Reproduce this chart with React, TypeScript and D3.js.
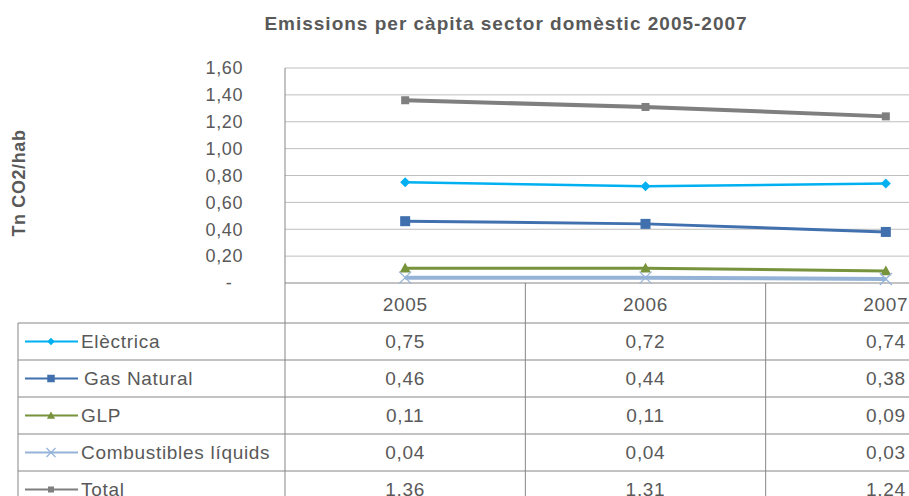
import React from "react";
import * as d3 from "d3";

const years = ["2005", "2006", "2007"];
const seriesNames = ["Elèctrica", "Gas Natural", "GLP", "Combustibles líquids", "Total"];
const electrica = [0.75, 0.72, 0.74];
const gasNatural = [0.46, 0.44, 0.38];
const glp = [0.11, 0.11, 0.09];
const combustibles = [0.04, 0.04, 0.03];
const total = [1.36, 1.31, 1.24];
const yTicks = [0, 0.2, 0.4, 0.6, 0.8, 1.0, 1.2, 1.4, 1.6];

const W = 909, H = 496;
const plotLeft = 285, plotRight = 1006, plotTop = 68, plotBottom = 283;
const tableLeft = 18, headerBottom = 323, rowH = 37;
const FONT = "'Liberation Sans', Arial, sans-serif";

const styles = [
  { color: "#00B0F0", width: 2.5, marker: "diamond" },
  { color: "#4170AE", width: 3, marker: "square" },
  { color: "#77933C", width: 3, marker: "triangle" },
  { color: "#95B3D7", width: 4, marker: "x" },
  { color: "#7F7F7F", width: 4, marker: "square2" },
];

function Marker({ type, x, y, color, small }: { type: string; x: number; y: number; color: string; small?: boolean }) {
  const k = small ? 0.75 : 1;
  if (type === "diamond") {
    const s = 5 * k;
    return <path d={`M${x},${y - s}L${x + s},${y}L${x},${y + s}L${x - s},${y}Z`} fill={color} />;
  }
  if (type === "square") {
    const s = 5 * k;
    return <rect x={x - s} y={y - s} width={2 * s} height={2 * s} fill={color} />;
  }
  if (type === "square2") {
    const s = 4 * k;
    return <rect x={x - s} y={y - s} width={2 * s} height={2 * s} fill={color} />;
  }
  if (type === "triangle") {
    const s = 5.5 * k;
    return <path d={`M${x},${y - s}L${x + s},${y + s * 0.8}L${x - s},${y + s * 0.8}Z`} fill={color} />;
  }
  const s = 6 * k;
  return (
    <g stroke={color} strokeWidth={1.3}>
      <line x1={x - s} y1={y - s} x2={x + s} y2={y + s} />
      <line x1={x - s} y1={y + s} x2={x + s} y2={y - s} />
    </g>
  );
}

export default function App() {
  const data = [electrica, gasNatural, glp, combustibles, total];
  const x = d3.scaleBand<string>().domain(years).range([plotLeft, plotRight]).padding(0);
  const cx = (yr: string) => (x(yr) as number) + x.bandwidth() / 2;
  const y = d3.scaleLinear().domain([0, 1.6]).range([plotBottom, plotTop]);
  const fmt = (v: number) => (v === 0 ? "-" : d3.format(".2f")(v).replace(".", ","));
  const line = d3
    .line<number>()
    .x((_, i) => cx(years[i]))
    .y((d) => y(d));
  const gridC = "#BFBFBF";
  const axisC = "#868686";
  const textC = "#595959";
  const rowsTop = (i: number) => headerBottom + i * rowH;
  const cellFont = 19;
  const cellSpacing = 0.7;

  return (
    <svg width={W} height={H} style={{ position: "absolute", left: 0, top: 0, background: "#fff" }} fontFamily={FONT}>
      <rect width={W} height={H} fill="#fff" />
      <text x={506} y={30} textAnchor="middle" fontSize={19} fontWeight="bold" fill={textC} letterSpacing={1}>
        Emissions per càpita sector domèstic 2005-2007
      </text>
      <text transform={`translate(25,183) rotate(-90)`} textAnchor="middle" fontSize={18} fontWeight="bold" fill={textC} letterSpacing={0.6}>
        Tn CO2/hab
      </text>
      {yTicks.map((t) => (
        <g key={t}>
          {t > 0 && <line x1={plotLeft} x2={plotRight} y1={y(t)} y2={y(t)} stroke={gridC} strokeWidth={1} />}
          <text
            x={t === 0 ? 229 : 243}
            y={y(t)}
            dy="0.35em"
            textAnchor={t === 0 ? "middle" : "end"}
            fontSize={18}
            fill={textC}
            letterSpacing={0.6}
          >
            {fmt(t)}
          </text>
        </g>
      ))}
      {/* plot border lines */}
      <line x1={plotLeft} x2={plotLeft} y1={plotTop} y2={H} stroke={axisC} />
      <line x1={plotLeft} x2={plotRight} y1={plotBottom} y2={plotBottom} stroke={axisC} />
      {/* table lines */}
      {years.slice(1).map((yr) => (
        <line key={yr} x1={x(yr) as number} x2={x(yr) as number} y1={plotBottom} y2={H} stroke={axisC} />
      ))}
      <line x1={tableLeft} x2={tableLeft} y1={headerBottom} y2={H} stroke={axisC} />
      {seriesNames.map((_, i) => (
        <line key={i} x1={tableLeft} x2={plotRight} y1={rowsTop(i)} y2={rowsTop(i)} stroke={axisC} />
      ))}
      {/* header years */}
      {years.map((yr) => (
        <text key={yr} x={cx(yr)} y={(plotBottom + headerBottom) / 2 + 1} dy="0.35em" textAnchor="middle" fontSize={cellFont} fill={textC} letterSpacing={cellSpacing}>
          {yr}
        </text>
      ))}
      {/* series lines */}
      {data.map((vals, si) => (
        <g key={si}>
          <path d={line(vals) as string} fill="none" stroke={styles[si].color} strokeWidth={styles[si].width} />
          {vals.map((v, i) => (
            <Marker key={i} type={styles[si].marker} x={cx(years[i])} y={y(v)} color={styles[si].color} />
          ))}
        </g>
      ))}
      {/* table rows */}
      {seriesNames.map((name, si) => {
        const mid = rowsTop(si) + rowH / 2;
        return (
          <g key={name}>
            <line x1={25} x2={78} y1={mid} y2={mid} stroke={styles[si].color} strokeWidth={2.2} />
            <Marker type={styles[si].marker} x={51} y={mid} color={styles[si].color} small />
            <text x={si === 1 ? 84 : 81} y={mid} dy="0.35em" fontSize={cellFont} fill={textC} letterSpacing={cellSpacing}>
              {name}
            </text>
            {data[si].map((v, i) => (
              <text key={i} x={cx(years[i])} y={mid} dy="0.35em" textAnchor="middle" fontSize={cellFont} fill={textC} letterSpacing={cellSpacing}>
                {fmt(v)}
              </text>
            ))}
          </g>
        );
      })}
    </svg>
  );
}
